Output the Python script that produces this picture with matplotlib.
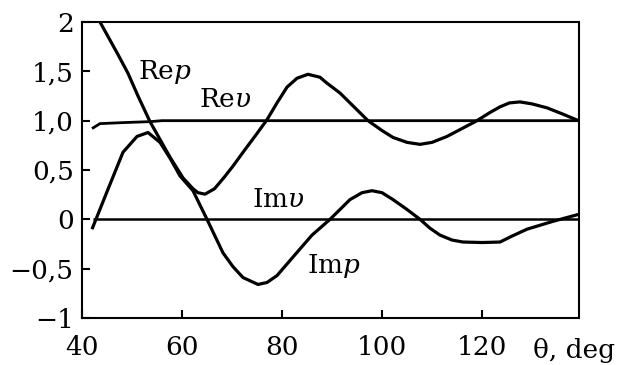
import matplotlib
matplotlib.use('Agg')
import matplotlib.pyplot as plt
import matplotlib.transforms as mtransforms

plt.rcParams['font.family'] = 'DejaVu Serif'
plt.rcParams['mathtext.fontset'] = 'dejavuserif'

# Re p
re_p_x = [43.6, 47.2, 49.2, 51.2, 53.6, 55.6, 57.6, 60.2, 62.2, 63.2, 64.6, 66.5,
          68.5, 70.2, 72.5, 75, 77, 79, 81, 83, 85.2, 87.6, 89, 91.6, 94, 97.2,
          100, 102.2, 105, 107.6, 110, 113, 116, 119, 121.5, 123.6, 125.5, 127.6,
          130, 133, 136, 139.3]
re_p_y = [2.0, 1.67, 1.48, 1.25, 0.99, 0.81, 0.63, 0.42, 0.31, 0.27, 0.255, 0.31,
          0.43, 0.54, 0.70, 0.87, 1.01, 1.18, 1.34, 1.43, 1.47, 1.44, 1.38, 1.28,
          1.16, 1.0, 0.90, 0.83, 0.78, 0.76, 0.78, 0.84, 0.92, 1.0, 1.08, 1.14,
          1.18, 1.19, 1.17, 1.13, 1.07, 1.0]

# Re v
re_v_x = [42, 43.6, 48, 53.6, 56, 139.3]
re_v_y = [0.92, 0.97, 0.98, 0.99, 1.0, 1.0]

# Im v
im_v_x = [42.2, 139.3]
im_v_y = [0.0, 0.0]

# Im p
im_p_x = [42, 45, 48.2, 51, 53.2, 55.6, 57.6, 59.6, 62.2, 65, 68.2, 70.2, 72.2,
          75.2, 77, 79, 83.6, 86, 89.6, 93.6, 96, 98, 100, 102.2, 105, 107.6,
          109.6, 111.6, 114, 116.2, 120, 123.6, 126, 129, 134.2, 139.3]
im_p_y = [-0.1, 0.28, 0.68, 0.84, 0.88, 0.78, 0.62, 0.44, 0.29, 0.0, -0.34,
          -0.48, -0.59, -0.66, -0.64, -0.57, -0.30, -0.16, 0.0, 0.20, 0.27, 0.29,
          0.27, 0.20, 0.10, 0.0, -0.09, -0.16, -0.21, -0.23, -0.235, -0.23, -0.17,
          -0.10, -0.02, 0.05]

x_ticks = [40, 60, 80, 100, 120]
y_ticks = [-1, -0.5, 0, 0.5, 1.0, 1.5, 2]
y_tick_labels = ['\u22121', '\u22120,5', '0', '0,5', '1,0', '1,5', '2']

fig = plt.figure(figsize=(6.22, 3.65), dpi=100)
ax = fig.add_axes([82 / 622, 1 - 318 / 365, (578.5 - 82) / 622, (318 - 22) / 365])

line_kw = dict(color='black', solid_joinstyle='round', solid_capstyle='butt')
ax.plot(re_p_x, re_p_y, linewidth=2.3, **line_kw)
ax.plot(re_v_x, re_v_y, linewidth=2.0, **line_kw)
ax.plot(im_v_x, im_v_y, linewidth=1.8, **line_kw)
ax.plot(im_p_x, im_p_y, linewidth=2.3, **line_kw)

ax.set_xlim(40, 139.3)
ax.set_ylim(-1, 2)
ax.set_xticks(x_ticks)
ax.set_xticklabels([str(t) for t in x_ticks])
ax.set_yticks(y_ticks)
ax.set_yticklabels(y_tick_labels)

for s in ax.spines.values():
    s.set_linewidth(1.5)
ax.tick_params(direction='in', length=6, width=1.5, labelsize=19,
               top=False, right=False)
ax.tick_params(axis='x', pad=12)
ax.tick_params(axis='y', pad=6)

fs = 19
ax.text(51.2, 1.42, r'Re$\it{p}$', fontsize=fs, va='baseline')
ax.text(63.4, 1.135, r'Re$\upsilon$', fontsize=fs, va='baseline')
ax.text(74, 0.12, r'Im$\upsilon$', fontsize=fs, va='baseline')
ax.text(85, -0.54, r'Im$\it{p}$', fontsize=fs, va='baseline')

trans = mtransforms.blended_transform_factory(ax.transData, ax.transAxes)
ax.text(130.2, -0.135, '\u03b8, deg', fontsize=fs, va='baseline',
        transform=trans, clip_on=False)

fig.savefig('out.png', dpi=100)
